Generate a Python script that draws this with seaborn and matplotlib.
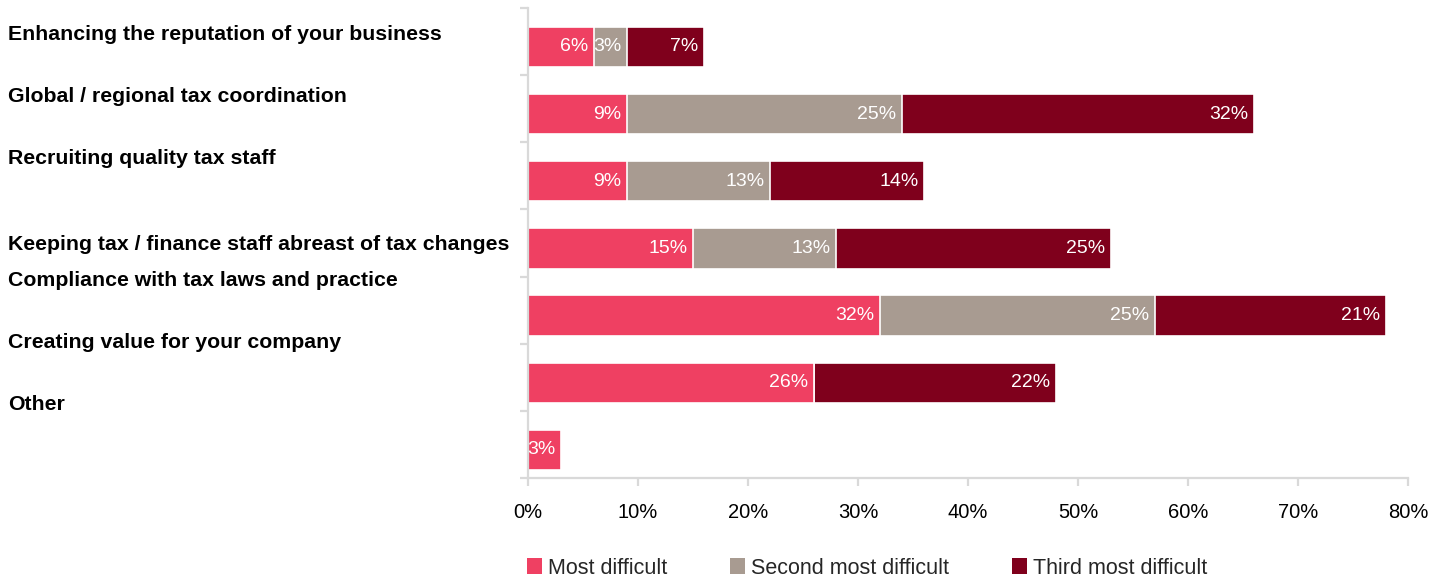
import numpy as np
import pandas as pd
import matplotlib
matplotlib.use("Agg")
import matplotlib.pyplot as plt
from matplotlib.patches import Patch
import seaborn as sns

# Survey data: share of respondents ranking each area as difficult
categories = [
    "Enhancing the reputation of your business",
    "Global / regional tax coordination",
    "Recruiting quality tax staff",
    "Keeping tax / finance staff abreast of tax changes",
    "Compliance with tax laws and practice",
    "Creating value for your company",
    "Other",
]
most_difficult = [6, 9, 9, 15, 32, 26, 3]
second_most = [3, 25, 13, 13, 25, 0, 0]
third_most = [7, 32, 14, 25, 21, 22, 0]
series_names = ["Most difficult", "Second most difficult", "Third most difficult"]
x_ticks = [0, 10, 20, 30, 40, 50, 60, 70, 80]

colors = ["#EF4062", "#A89B91", "#7F001C"]
spine_grey = "#D9D9D9"

sns.set_theme(style="white")
plt.rcParams["font.family"] = ["Liberation Sans", "DejaVu Sans"]

df = pd.DataFrame({
    "category": categories,
    "most": most_difficult,
    "second": second_most,
    "third": third_most,
})
df["cum1"] = df["most"]
df["cum2"] = df["most"] + df["second"]
df["cum3"] = df["cum2"] + df["third"]

fig = plt.figure(figsize=(14.38, 5.81), dpi=100)
ax = fig.add_axes([528 / 1438, 1 - 478 / 581, 880 / 1438, 470 / 581])

# stacked bars: draw cumulative totals from the outside in
for col, color in zip(["cum3", "cum2", "cum1"], colors[::-1]):
    sns.barplot(data=df, x=col, y="category", order=categories, orient="h",
                color=color, width=0.6, edgecolor="white", linewidth=1.2,
                saturation=1, ax=ax)

# value labels at the right end of each segment
for i, row in df.iterrows():
    ends = [row["cum1"], row["cum2"], row["cum3"]]
    vals = [row["most"], row["second"], row["third"]]
    for v, e in zip(vals, ends):
        if v > 0:
            ax.annotate(f"{v}%", xy=(e, i), xytext=(-4, 0),
                        textcoords="offset points", ha="right", va="center",
                        color="white", fontsize=14)

off = 0.08
ax.set_ylim(len(categories) - 0.5 - off, -0.5 - off)
ax.set_yticks(np.arange(len(categories) + 1) - 0.5 - off)
ax.set_yticklabels([])
ax.set_xlim(0, 80)
ax.set_xticks(x_ticks)
ax.set_xticklabels([f"{t}%" for t in x_ticks])
ax.set_xlabel("")
ax.set_ylabel("")

for side in ["top", "right"]:
    ax.spines[side].set_visible(False)
for side in ["left", "bottom"]:
    ax.spines[side].set_color(spine_grey)
    ax.spines[side].set_linewidth(1.6)
ax.tick_params(axis="x", which="major", direction="out", length=6, width=1.6,
               color=spine_grey, labelsize=14.5, labelcolor="black", pad=12,
               bottom=True)
ax.tick_params(axis="y", which="major", direction="out", length=6, width=1.6,
               color=spine_grey, left=True)

# category captions at the left edge of the figure
caption_y = [34, 96, 158, 245, 280, 342, 405]
for name, ypx in zip(categories, caption_y):
    fig.text(8 / 1438, 1 - ypx / 581, name, ha="left", va="center",
             fontsize=15.3, fontweight="bold", color="black")

handles = [Patch(facecolor=c, edgecolor="none") for c in colors]
fig.legend(handles, series_names, loc="center left",
           bbox_to_anchor=(518 / 1438, 1 - 568 / 581), ncol=3, frameon=False,
           fontsize=15.5, handlelength=0.7, handleheight=0.75,
           handletextpad=0.3, columnspacing=2.9, borderaxespad=0)

fig.savefig("out.png", dpi=100)
